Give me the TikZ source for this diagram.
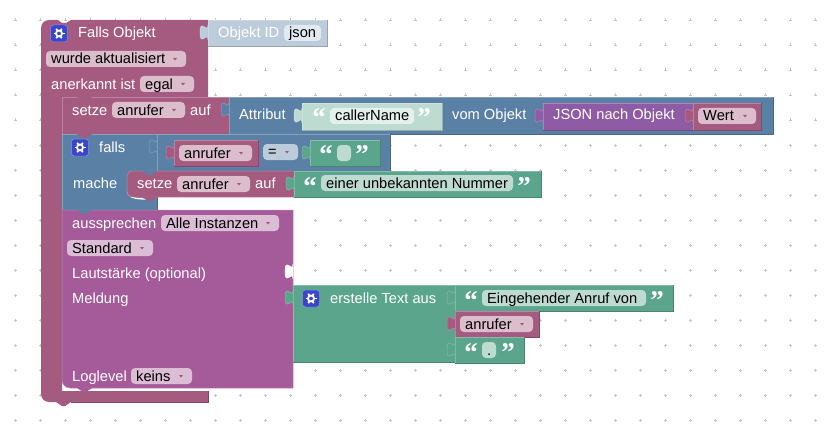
\documentclass[tikz,border=0pt]{standalone}
\usepackage{xcolor}
\usepackage{fontspec}
\setmainfont{Liberation Sans}
\newfontfamily\quotefont{Liberation Serif}[BoldFont={Liberation Serif Bold}]
\usepackage{tikz}
\usetikzlibrary{calc,positioning}
\definecolor{varcol}{HTML}{A55B80}
\definecolor{logiccol}{HTML}{5B80A5}
\definecolor{textcol}{HTML}{5BA58C}
\definecolor{jsoncol}{HTML}{8F5BA5}
\definecolor{saycol}{HTML}{A55B99}
\definecolor{idcol}{HTML}{BDCCDB}
\definecolor{idfield}{HTML}{E3E9F0}
\definecolor{palegreen}{HTML}{BEDBD1}
\definecolor{lightgreen}{HTML}{E4F0EB}
\definecolor{varfield}{HTML}{DBBDCC}
\definecolor{sayfield}{HTML}{DBBDD6}
\definecolor{iconcol}{HTML}{3B46C8}
\tikzset{
    blockbox/.style={anchor=north west,inner sep=0pt,outer sep=0pt,draw=none},
    fieldbox/.style={anchor=north west,inner sep=0pt,outer sep=0pt,rounded corners=4pt,minimum height=16pt},
    whitelabel/.style={anchor=base west,inner sep=0pt,text=white,font=\fontsize{14.67}{16}\selectfont},
    blacklabel/.style={whitelabel,text=black},
    quotelabel/.style={anchor=base,inner sep=0pt,text=white,font=\quotefont\bfseries\fontsize{27}{27}\selectfont},
    griddot/.style={draw=black!22,line width=0.6pt},
}
\newcommand{\labelat}[4][whitelabel]{\node[#1] (#2) at #3 {#4} ;}
\newcommand{\tabat}[3][varcol]{\draw[fill=#1,draw=#1!75!white,line width=0.5pt] (#2,#3+15) .. controls (#2,#3+5) and (#2-8,#3+23) .. (#2-8,#3+7.5) .. controls (#2-8,#3-8) and (#2,#3+10) .. (#2,#3) ;}
\newcommand{\boxat}[6][varcol]{
    \node[blockbox,fill=#1,minimum width={(#5-#3)*1pt},minimum height={(#6-#4)*1pt}] (#2) at (#3,#4) {} ;
    \draw[#1!80!black,line width=0.7pt] (#2.north east)--(#2.south east)--(#2.south west) ;
    \draw[#1!75!white,line width=0.6pt] (#2.south west)--(#2.north west)--(#2.north east) ;
}
\newcommand{\valueat}[6][varcol]{
    \boxat[#1]{#2}{#3}{#4}{#5}{#6}
    \tabat[#1]{#3}{#4+5}
}
\newcommand{\bumpat}[3][varcol]{\fill[#1] (#2+15,#3)--(#2+21,#3+4)--(#2+24,#3+4)--(#2+30,#3)--cycle ;}
\newcommand{\dropat}[6][varfield]{
    \node[fieldbox,fill=#1,minimum width={(#4-#3)*1pt}] (#2) at (#3,#5) {} ;
    \node[blacklabel] (#2text) at (#3+5,#5+13) {#6} ;
    \fill[varcol] (#4-13,#5+7)--(#4-9,#5+7)--(#4-11,#5+9.5)--cycle ;
}
\newcommand{\fieldat}[6]{
    \node[fieldbox,fill=#1,minimum width={(#4-#3)*1pt}] (#2) at (#3,#5) {} ;
    \node[blacklabel] (#2text) at (#3+5,#5+13) {#6} ;
}
\newcommand{\iconat}[3]{
    \node[rounded corners=3pt,fill=iconcol,draw=iconcol!60!white,line width=0.5pt,minimum size=17pt,inner sep=0pt] (#1) at (#2,#3) {} ;
    \draw[white,line width=1.8pt] (#1.center) circle (3pt) ;
    \foreach \a in {0,60,...,300} {\draw[white,line width=1.7pt] (#1.center)++(\a:3.5pt)--++(\a:2pt) ;}
}
\begin{document}
\begin{tikzpicture}[x=1pt,y=-1pt]
        \useasboundingbox (0,0) rectangle (831,428) ;
        \foreach \x in {15,40,...,815} {
            \foreach \y in {20,45,...,420} {
                \draw[griddot] (\x-1.5,\y)--(\x+1.5,\y) (\x,\y-1.5)--(\x,\y+1.5) ;
            }
        }
        \fill[varcol] (49,20)--(58,20)--(62,23)--(66,23)--(71,20)--(208,20)--(208,97)--(62,97)--(62,391)--(208,391)--(208,402)--(71,402)--(65,406)--(62,406)--(56,402)--(49,402) arc (90:180:8) -- (41,28) arc (180:270:8) -- cycle ;
        \draw[varcol!80!black,line width=0.7pt] (208,391)--(208,402)--(71,402) ;
        \iconat{fallsicon}{59}{33.5}
        \labelat{fallstext}{(78,38)}{Falls Objekt}
        \valueat[idcol]{objid}{208}{20}{327}{46}
        \labelat{objidtext}{(218,38)}{Objekt ID}
        \fieldat{idfield}{jsonfield}{284}{321}{25}{json}
        \dropat{updfield}{46}{186}{51}{wurde aktualisiert}
        \labelat{acktext}{(51,89)}{anerkannt ist}
        \dropat{ackfield}{140}{194}{76}{egal}
        \boxat{setzeone}{62}{97}{229}{134}
        \bumpat{62}{97}
        \labelat{setzeonetext}{(72,115)}{setze}
        \dropat{callerone}{112}{185}{102}{anrufer}
        \labelat{aufone}{(190,115)}{auf}
        \valueat[logiccol]{attrib}{229}{97}{773}{134}
        \labelat{attribtext}{(239,120)}{Attribut}
        \valueat[palegreen]{namestr}{302}{103}{442}{130}
        \fieldat{lightgreen}{namefield}{330}{414}{108}{callerName}
        \node[quotelabel] (nameopen) at (319,127) {“} ;
        \node[quotelabel] (nameclose) at (424,127) {”} ;
        \labelat{vomtext}{(452,120)}{vom Objekt}
        \valueat[jsoncol]{jsonblock}{543}{103}{693}{130}
        \labelat{jsontext}{(553,120)}{JSON nach Objekt}
        \valueat{wertblock}{693}{103}{761}{130}
        \dropat{wertfield}{698}{756}{108}{Wert}
        \fill[logiccol] (62,134)--(157,134)--(157,210)--(62,210)--cycle ;
        \draw[logiccol!80!black,line width=0.7pt] (157,171)--(157,210)--(62,210) ;
        \draw[logiccol!75!white,line width=0.6pt] (62,210)--(62,134)--(157,134) ;
        \bumpat{62}{134}
        \iconat{ificon}{80}{147.5}
        \labelat{iftext}{(99,152)}{falls}
        \labelat{machetext}{(73,188)}{mache}
        \valueat[logiccol]{ifrow}{157}{134}{390}{171}
        \valueat{callertwo}{174}{140}{258}{166}
        \dropat{callertwofield}{179}{252}{145}{anrufer}
        \dropat[idcol]{eqfield}{263}{298}{144}{=}
        \valueat[textcol]{emptystr}{310}{140}{380}{166}
        \fieldat{palegreen}{emptyfield}{337}{351}{145}{}
        \node[quotelabel] (emptyopen) at (326,164) {“} ;
        \node[quotelabel] (emptyclose) at (362,164) {”} ;
        \draw[white,line width=1.3pt] (127.5,190) .. controls (127.5,197) and (133,199) .. (147,199) ;
        \draw[fill=varcol,draw=varcol!75!white,line width=0.5pt] (294,197)--(135,197)[rounded corners=6pt]--(127,197)--(127,171)--(135,171)[sharp corners]--(294,171)--cycle ;
        \bumpat[logiccol]{127}{171}
        \bumpat{127}{197}
        \labelat{setzetwotext}{(137,188)}{setze}
        \dropat{callerthree}{177}{250}{176}{anrufer}
        \labelat{auftwo}{(255,188)}{auf}
        \valueat[textcol]{unknownstr}{294}{171}{541}{197}
        \fieldat{palegreen}{unknownfield}{321}{513}{175}{einer unbekannten Nummer}
        \node[quotelabel] (unknownopen) at (310,195) {“} ;
        \node[quotelabel] (unknownclose) at (524,195) {”} ;
        \draw[fill=saycol,draw=saycol!75!white,line width=0.5pt] (62,210)--(293,210)--(293,388)--(70,388) arc (90:180:8) -- cycle ;
        \bumpat[logiccol]{62}{210}
        \bumpat[saycol]{62}{388}
        \labelat{saytext}{(72,228)}{aussprechen}
        \dropat[sayfield]{instfield}{161}{279}{215}{Alle Instanzen}
        \dropat[sayfield]{stdfield}{67}{153}{240}{Standard}
        \labelat{voltext}{(72,278)}{Lautstärke (optional)}
        \labelat{msgtext}{(72,303)}{Meldung}
        \labelat{logtext}{(72,381)}{Loglevel}
        \dropat[sayfield]{logfield}{131}{192}{368}{keins}
        \tabat[white]{293}{264}
        \valueat[textcol]{joinblock}{293}{285}{455}{362}
        \iconat{joinicon}{311}{298.5}
        \labelat{jointext}{(330,303)}{erstelle Text aus}
        \valueat[textcol]{callstr}{455}{285}{673}{311}
        \fieldat{palegreen}{callfield}{482}{646}{290}{Eingehender Anruf von}
        \node[quotelabel] (callopen) at (471,309) {“} ;
        \node[quotelabel] (callclose) at (657,309) {”} ;
        \valueat{callerfour}{455}{311}{539}{337}
        \dropat{callerfourfield}{460}{533}{316}{anrufer}
        \valueat[textcol]{dotstr}{455}{337}{524}{363}
        \fieldat{palegreen}{dotfield}{482}{496}{342}{.}
        \node[quotelabel] (dotopen) at (471,361) {“} ;
        \node[quotelabel] (dotclose) at (508,361) {”} ;
    \end{tikzpicture}
\end{document}
